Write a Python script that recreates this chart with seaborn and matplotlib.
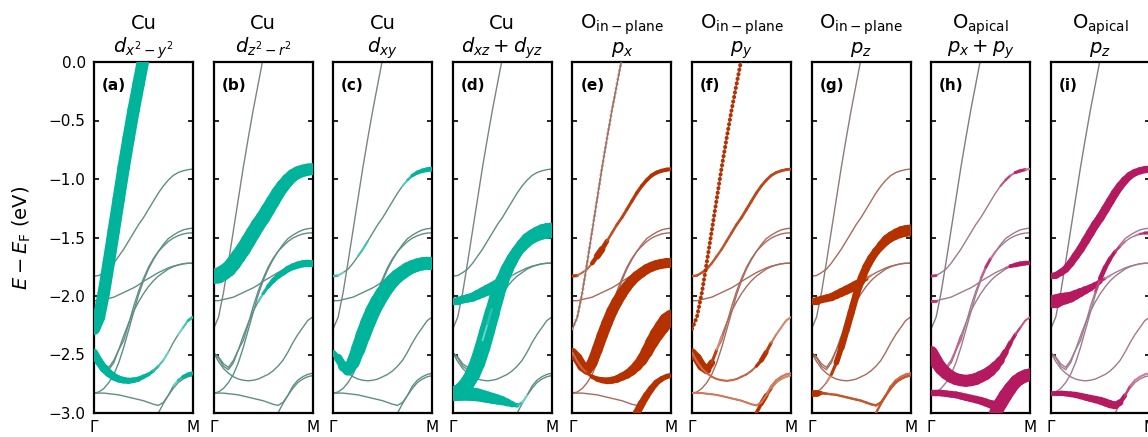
import numpy as np
import pandas as pd
import matplotlib
matplotlib.use("Agg")
import matplotlib.pyplot as plt
import seaborn as sns
from matplotlib.collections import LineCollection
from matplotlib.colors import to_rgb

nan = np.nan

# ---------------- data ----------------
K = [0.0, 0.05, 0.1, 0.15, 0.2, 0.25, 0.3, 0.35, 0.4, 0.45, 0.5,
     0.55, 0.6, 0.65, 0.7, 0.75, 0.8, 0.85, 0.9, 0.95, 1.0]

band_S = [-2.28, -2.18, -1.97, -1.71, -1.44, -1.17, -0.90, -0.65, -0.41, -0.19, 0.03,
          0.25, nan, nan, nan, nan, nan, nan, nan, nan, nan]
band_A = [-1.83, -1.825, -1.80, -1.77, -1.72, -1.66, -1.60, -1.53, -1.46, -1.39, -1.33,
          -1.26, -1.19, -1.12, -1.06, -1.01, -0.97, -0.945, -0.93, -0.92, -0.915]
band_B = [-2.04, -2.04, -2.03, -2.02, -2.01, -1.99, -1.97, -1.95, -1.93, -1.905, -1.875,
          -1.85, -1.825, -1.80, -1.78, -1.76, -1.745, -1.735, -1.725, -1.72, -1.72]
band_C = [-2.485, -2.56, -2.62, -2.66, -2.69, -2.71, -2.72, -2.725, -2.72, -2.71, -2.69,
          -2.67, -2.64, -2.60, -2.55, -2.48, -2.40, -2.33, -2.27, -2.21, -2.18]
band_D1 = [-2.83, -2.82, -2.79, -2.74, -2.67, -2.57, -2.44, -2.29, -2.14, -1.99, -1.87,
           -1.77, -1.69, -1.62, -1.56, -1.51, -1.48, -1.455, -1.435, -1.425, -1.42]
band_D2 = [-2.485, -2.53, -2.60, -2.63, -2.57, -2.46, -2.34, -2.23, -2.13, -2.05, -1.98,
           -1.92, -1.87, -1.83, -1.80, -1.77, -1.75, -1.735, -1.725, -1.72, -1.72]
band_D3 = [-2.485, -2.52, -2.58, -2.61, -2.55, -2.46, -2.38, -2.24, -2.09, -1.96, -1.85,
           -1.755, -1.68, -1.62, -1.575, -1.535, -1.505, -1.485, -1.47, -1.462, -1.46]
band_E1 = [-2.83, -2.83, -2.83, -2.835, -2.84, -2.845, -2.855, -2.865, -2.875, -2.885, -2.895,
           -2.91, -2.925, -2.935, -2.91, -2.85, -2.77, -2.72, -2.69, -2.67, -2.66]
band_F = [nan, nan, nan, nan, nan, nan, nan, nan, nan, nan, nan,
          nan, -3.12, -3.00, -2.92, -2.85, -2.79, -2.74, -2.71, -2.69, -2.68]

BANDS = {"S": band_S, "A": band_A, "B": band_B, "C": band_C, "D1": band_D1,
         "D2": band_D2, "D3": band_D3, "E1": band_E1, "F": band_F}

Y_TICKS = [0.0, -0.5, -1.0, -1.5, -2.0, -2.5, -3.0]
X_TICKS = [0.0, 1.0]
X_LABELS = ["Γ", "M"]

TITLE_1 = ["Cu", "Cu", "Cu", "Cu",
           r"$\mathrm{O}_{\mathrm{in-plane}}$", r"$\mathrm{O}_{\mathrm{in-plane}}$",
           r"$\mathrm{O}_{\mathrm{in-plane}}$", r"$\mathrm{O}_{\mathrm{apical}}$",
           r"$\mathrm{O}_{\mathrm{apical}}$"]
TITLE_2 = [r"$d_{x^2-y^2}$", r"$d_{z^2-r^2}$", r"$d_{xy}$", r"$d_{xz}+d_{yz}$",
           r"$p_x$", r"$p_y$", r"$p_z$", r"$p_x+p_y$", r"$p_z$"]
PANEL_TAGS = ["(a)", "(b)", "(c)", "(d)", "(e)", "(f)", "(g)", "(h)", "(i)"]
FAMILY = ["cu", "cu", "cu", "cu", "oin", "oin", "oin", "oap", "oap"]

# orbital weights (0..1) per band at the K points
W_a = {
    "S": [0.78, 0.78, 0.78, 0.78, 0.78, 0.78, 0.78, 0.78, 0.78, 0.78, 0.78,
          0.78, 0, 0, 0, 0, 0, 0, 0, 0, 0],
    "C": [0.5, 0.52, 0.52, 0.5, 0.47, 0.44, 0.41, 0.38, 0.35, 0.31, 0.27,
          0.23, 0.19, 0.14, 0.08, 0.03, 0, 0, 0.08, 0.15, 0.2],
    "E1": [0, 0, 0, 0, 0, 0, 0, 0, 0, 0, 0,
           0, 0, 0, 0, 0, 0, 0.12, 0.2, 0.25, 0.25],
}
W_b = {
    "A": [1.0, 0.98, 0.97, 0.96, 0.95, 0.94, 0.93, 0.92, 0.91, 0.9, 0.89,
          0.88, 0.86, 0.85, 0.83, 0.81, 0.8, 0.78, 0.77, 0.76, 0.75],
    "D2": [0, 0, 0, 0, 0, 0, 0, 0, 0, 0.05, 0.15,
           0.25, 0.3, 0.35, 0.38, 0.4, 0.42, 0.44, 0.45, 0.45, 0.45],
}
W_c = {
    "D2": [0.25, 0.45, 0.6, 0.7, 0.8, 0.88, 0.93, 0.95, 0.95, 0.95, 0.93,
           0.9, 0.88, 0.86, 0.85, 0.84, 0.83, 0.82, 0.82, 0.82, 0.82],
    "A": [0.2, 0.1, 0, 0, 0, 0, 0.25, 0, 0, 0, 0,
          0, 0, 0, 0.05, 0.12, 0.2, 0.25, 0.28, 0.3, 0.3],
}
W_d = {
    "B": [0.45, 0.47, 0.5, 0.53, 0.56, 0.6, 0.64, 0.68, 0.72, 0.7, 0.45,
          0.15, 0, 0, 0, 0, 0, 0, 0, 0, 0],
    "D1": [0.85, 0.88, 0.9, 0.93, 0.95, 0.97, 0.98, 0.98, 0.95, 0.9, 0.85,
           0.8, 0.75, 0.72, 0.7, 0.7, 0.7, 0.7, 0.7, 0.7, 0.7],
    "D3": [0, 0, 0, 0, 0, 0, 0, 0.1, 0.2, 0.35, 0.55,
           0.65, 0.7, 0.7, 0.7, 0.7, 0.7, 0.7, 0.7, 0.7, 0.7],
    "E1": [0.95, 0.93, 0.9, 0.87, 0.84, 0.8, 0.76, 0.72, 0.68, 0.62, 0.55,
           0.46, 0.35, 0.22, 0.08, 0, 0, 0, 0, 0, 0],
}
W_e = {
    "A": [0.3, 0.1, 0.1, 0.12, 0.13, 0.42, 0.42, 0.16, 0.16, 0.17, 0.18,
          0.19, 0.2, 0.21, 0.22, 0.23, 0.24, 0.25, 0.25, 0.25, 0.25],
    "D2": [0.6, 0.62, 0.63, 0.64, 0.66, 0.68, 0.7, 0.7, 0.7, 0.7, 0.68,
           0.66, 0.64, 0.63, 0.62, 0.62, 0.62, 0.62, 0.62, 0.62, 0.62],
    "C": [0.1, 0.1, 0.12, 0.15, 0.25, 0.32, 0.38, 0.42, 0.44, 0.46, 0.5,
          0.54, 0.58, 0.63, 0.68, 0.74, 0.8, 0.86, 0.92, 0.95, 0.95],
    "F": [0, 0, 0, 0, 0, 0, 0, 0, 0, 0, 0,
          0, 0.5, 0.5, 0.48, 0.45, 0.42, 0.38, 0.34, 0.3, 0.28],
}
W_f = {
    "A": [0.15, 0.15, 0.15, 0.15, 0.15, 0.15, 0.15, 0.16, 0.16, 0.17, 0.17,
          0.18, 0.18, 0.18, 0.18, 0.18, 0.18, 0.18, 0.18, 0.18, 0.18],
    "D2": [0.55, 0.58, 0.6, 0.55, 0.3, 0.08, 0, 0, 0, 0, 0,
           0, 0, 0, 0, 0, 0, 0, 0, 0, 0],
    "C": [0.1, 0.1, 0.1, 0.1, 0.12, 0.12, 0.12, 0.12, 0.12, 0.12, 0.12,
          0.12, 0.12, 0.12, 0.3, 0.3, 0.1, 0.05, 0.05, 0.05, 0.05],
    "F": [0, 0, 0, 0, 0, 0, 0, 0, 0, 0, 0,
          0, 0.1, 0.15, 0.3, 0.3, 0.1, 0.05, 0.05, 0.05, 0.05],
    "E1": [0.08, 0.08, 0.08, 0.08, 0.08, 0.08, 0.08, 0.08, 0.08, 0.08, 0.08,
           0.08, 0.08, 0.08, 0.08, 0.08, 0.08, 0.08, 0.08, 0.08, 0.08],
}
W_g = {
    "B": [0.45, 0.46, 0.47, 0.48, 0.5, 0.52, 0.54, 0.56, 0.58, 0.56, 0.45,
          0.2, 0, 0, 0, 0, 0, 0, 0, 0, 0],
    "D3": [0, 0, 0, 0, 0, 0, 0, 0.05, 0.15, 0.3, 0.45,
           0.5, 0.5, 0.5, 0.5, 0.5, 0.5, 0.5, 0.48, 0.46, 0.45],
    "D1": [0, 0, 0, 0, 0.1, 0.3, 0.4, 0.45, 0.45, 0.45, 0.45,
           0.45, 0.45, 0.45, 0.45, 0.45, 0.45, 0.45, 0.45, 0.45, 0.45],
    "E1": [0.5, 0.35, 0.2, 0.15, 0.15, 0.15, 0.15, 0.15, 0.15, 0.15, 0.15,
           0.15, 0.15, 0.15, 0.15, 0.15, 0.12, 0.1, 0.1, 0.1, 0.1],
    "F": [0, 0, 0, 0, 0, 0, 0, 0, 0, 0, 0,
          0, 0.15, 0.15, 0.15, 0.15, 0.15, 0.15, 0.15, 0.15, 0.15],
}
W_h = {
    "C": [0.85, 0.83, 0.8, 0.78, 0.76, 0.75, 0.75, 0.75, 0.75, 0.75, 0.74,
          0.72, 0.68, 0.6, 0.48, 0.35, 0.25, 0.18, 0.12, 0.1, 0.1],
    "E1": [0.4, 0.4, 0.41, 0.42, 0.42, 0.43, 0.44, 0.45, 0.46, 0.47, 0.48,
           0.5, 0.52, 0.55, 0.6, 0.62, 0.62, 0.62, 0.62, 0.62, 0.62],
    "F": [0, 0, 0, 0, 0, 0, 0, 0, 0, 0, 0,
          0, 0.6, 0.8, 0.85, 0.85, 0.8, 0.75, 0.72, 0.7, 0.7],
    "A": [0.3, 0.05, 0, 0, 0, 0, 0, 0, 0, 0, 0,
          0, 0, 0, 0, 0.25, 0.05, 0.1, 0.3, 0.1, 0.05],
    "B": [0.3, 0.05, 0, 0, 0, 0, 0, 0, 0, 0, 0,
          0, 0, 0, 0, 0, 0.2, 0.3, 0.3, 0.3, 0.25],
    "D3": [0, 0, 0, 0, 0, 0, 0, 0, 0, 0, 0,
           0.2, 0.15, 0, 0, 0, 0, 0, 0, 0, 0],
    "D2": [0, 0, 0, 0, 0, 0.2, 0, 0, 0, 0, 0,
           0, 0, 0, 0, 0, 0, 0, 0, 0, 0],
}
W_i = {
    "A": [0.4, 0.42, 0.44, 0.46, 0.48, 0.5, 0.52, 0.53, 0.54, 0.54, 0.54,
          0.54, 0.54, 0.53, 0.52, 0.5, 0.48, 0.46, 0.45, 0.45, 0.45],
    "B": [0.85, 0.82, 0.78, 0.72, 0.66, 0.6, 0.54, 0.48, 0.42, 0.36, 0.25,
          0.1, 0, 0, 0, 0, 0, 0, 0, 0, 0],
    "D3": [0, 0, 0, 0, 0, 0, 0, 0, 0, 0, 0.3,
           0.3, 0.25, 0.2, 0.12, 0.05, 0, 0, 0.1, 0.2, 0.2],
    "E1": [0.3, 0.3, 0.32, 0.34, 0.36, 0.38, 0.4, 0.42, 0.44, 0.46, 0.48,
           0.5, 0.5, 0.48, 0.35, 0.2, 0.1, 0.05, 0.05, 0.05, 0.05],
}
WEIGHTS = [W_a, W_b, W_c, W_d, W_e, W_f, W_g, W_h, W_i]

# ---------------- style ----------------
FAT = {"cu": "#00b39b", "oin": "#b53200", "oap": "#b5195f"}
THIN = {"cu": "#5e8e85", "oin": "#a86a5c", "oap": "#a07a8e"}
THIN_S = {"cu": "#7a8583", "oin": "#8c7c7a", "oap": "#857b80"}
WMAX = 11.5  # pt for weight 1

sns.set_style("white")
plt.rcParams["font.family"] = ["DejaVu Sans"]
plt.rcParams["mathtext.fontset"] = "dejavusans"
plt.rcParams["text.color"] = "black"
plt.rcParams["axes.labelcolor"] = "black"
plt.rcParams["xtick.color"] = "black"
plt.rcParams["ytick.color"] = "black"

df = pd.concat([pd.DataFrame({"k": K, "E": v, "band": n}) for n, v in BANDS.items()],
               ignore_index=True).dropna()

Karr = np.array(K)


def draw_fat(ax, E, w, color):
    E = np.asarray(E, float)
    w = np.asarray(w, float)
    base = np.array(to_rgb(color))
    segs, lws, cols = [], [], []
    for i in range(len(Karr) - 1):
        if np.isnan(E[i]) or np.isnan(E[i + 1]):
            continue
        wm = 0.5 * (w[i] + w[i + 1])
        if wm < 0.03:
            continue
        a = min(1.0, 0.45 + 2.5 * wm)
        segs.append([(Karr[i], E[i]), (Karr[i + 1], E[i + 1])])
        lws.append(max(wm * WMAX, 1.4))
        cols.append(tuple(a * base + (1 - a) * np.ones(3)))
    if segs:
        lc = LineCollection(segs, linewidths=lws, colors=cols,
                            capstyle="round", joinstyle="round", zorder=3)
        ax.add_collection(lc)


W_PX, H_PX = 1148, 437
fig = plt.figure(figsize=(W_PX / 100, H_PX / 100), dpi=100)

for i in range(9):
    left = (94 + 119.6 * i) / W_PX
    ax = fig.add_axes([left, 24 / H_PX, 99 / W_PX, 351 / H_PX])
    fam = FAMILY[i]
    pal = {n: (THIN_S[fam] if n == "S" else THIN[fam]) for n in BANDS}
    sns.lineplot(data=df, x="k", y="E", hue="band", palette=pal, estimator=None,
                 sort=False, lw=1.0, legend=False, ax=ax, zorder=2)
    for name, w in WEIGHTS[i].items():
        draw_fat(ax, BANDS[name], w, FAT[fam])
    if i == 4:
        ax.plot(K, band_S, ls=(0, (0.01, 1.5)), lw=2.2, color="#dd8f7c",
                dash_capstyle="round", zorder=3)
        ax.plot(K, band_S, lw=0.8, color="#8a7470", zorder=4)
    if i == 5:
        ax.plot(K, band_S, ls=(0, (0.01, 1.1)), lw=3.0, color=FAT[fam],
                dash_capstyle="round", zorder=3)

    ax.set_xlim(0, 1)
    ax.set_ylim(-3, 0)
    ax.set_xlabel("")
    ax.set_ylabel("")
    ax.set_xticks(X_TICKS)
    ax.set_xticklabels(X_LABELS)
    ax.set_yticks(Y_TICKS)
    ax.tick_params(axis="y", direction="in", left=True, right=True, length=3.5,
                   width=1.2, labelsize=11, pad=6, labelleft=(i == 0),
                   colors="black")
    ax.tick_params(axis="x", length=0, labelsize=11, pad=5, colors="black")
    for s in ax.spines.values():
        s.set_linewidth(1.6)
        s.set_color("black")
    ax.text(0.5, 1.095, TITLE_1[i], transform=ax.transAxes, ha="center",
            va="baseline", fontsize=14, color="black")
    ax.text(0.5, 1.026, TITLE_2[i], transform=ax.transAxes, ha="center",
            va="baseline", fontsize=14, color="black")
    ax.text(0.08, 0.932, PANEL_TAGS[i], transform=ax.transAxes, ha="left",
            va="center", fontsize=11, fontweight="bold", zorder=5, color="black")

fig.text(22 / W_PX, 1 - 237.5 / H_PX, r"$E-E_\mathrm{F}$ (eV)", rotation=90,
         fontsize=14, va="center", ha="center", color="black")

fig.savefig("out.png", dpi=100)
